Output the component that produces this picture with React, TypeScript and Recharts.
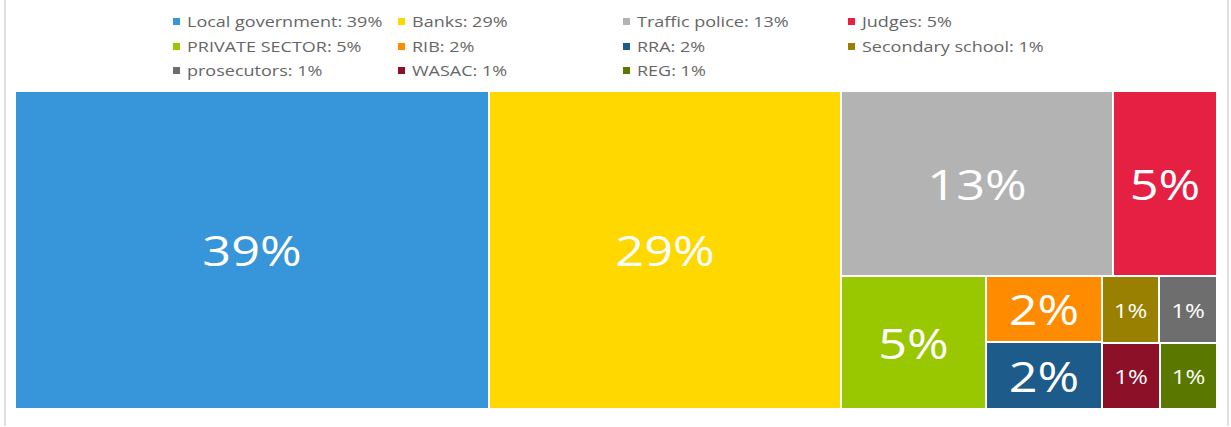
import { Treemap } from 'recharts';

const names = [
    'Local government', 'Banks', 'Traffic police', 'Judges', 'PRIVATE SECTOR', 'RIB',
    'RRA', 'Secondary school', 'prosecutors', 'WASAC', 'REG',
];
const shares = [39, 29, 13, 5, 5, 2, 2, 1, 1, 1, 1];
const colors = [
    '#3795D9', '#FFD800', '#B3B3B3', '#E52043', '#99C800', '#FF8C00',
    '#1C5B8A', '#9A8000', '#6E6E6E', '#8B1028', '#5A7800',
];

// grouping that reproduces the block arrangement of the original
const leaf = (i: number) => ({ name: names[i], value: shares[i], fill: colors[i] });
const treeData = [
    leaf(0),
    leaf(1),
    {
        name: 'others',
        children: [
            { name: 'upper', children: [2, 3].map(leaf) },
            { name: 'lower', children: [4, 5, 6, 7, 8, 9, 10].map(leaf) },
        ],
    },
];

const renderBlock = (props: any) => {
    const { x, y, width, height, depth, children, fill, value } = props;
    if (depth === 0 || (children && children.length)) return <g />;
    const fontSize = width > 90 ? 42 : 20;
    return (
        <g>
            <rect x={x} y={y} width={width} height={height} fill={fill} stroke="#fff" strokeWidth={2} />
            <text
                transform={`translate(${x + width / 2}, ${y + height / 2}) scale(1.2, 1)`}
                textAnchor="middle"
                dominantBaseline="central"
                fill="#fff"
                fontSize={fontSize}
                fontFamily="'Open Sans', sans-serif"
            >
                {`${value}%`}
            </text>
        </g>
    );
};

const App = () => {
    return (
        <div style={{position: 'absolute', left: 0, top: 0, width: 1231, height: 427, background: '#fff'}}>
            <div
                style={{
                    position: 'absolute', left: 4, top: 0, width: 1225, height: 426,
                    boxSizing: 'border-box', borderLeft: '2px solid #e0e0e0', borderRight: '2px solid #e0e0e0',
                }}
            />
            {names.map((n, i) => (
                <div
                    key={n}
                    style={{
                        position: 'absolute',
                        left: 173 + 225 * (i % 4),
                        top: 9 + 24.5 * Math.floor(i / 4),
                        height: 24,
                        lineHeight: '24px',
                        whiteSpace: 'nowrap',
                        fontFamily: "'Open Sans', sans-serif",
                        fontSize: 15,
                        color: '#666',
                    }}
                >
                    <span style={{position: 'absolute', left: 0, top: 9, width: 7, height: 7, background: colors[i]}} />
                    <span style={{position: 'absolute', left: 14, top: 0, transform: 'scaleX(1.2)', transformOrigin: 'left center'}}>
                        {`${n}: ${shares[i]}%`}
                    </span>
                </div>
            ))}
            <div style={{position: 'absolute', left: 15, top: 91}}>
                <Treemap
                    width={1202}
                    height={318}
                    data={treeData}
                    dataKey="value"
                    content={renderBlock}
                    isAnimationActive={false}
                />
            </div>
        </div>
    );
};

export default App;
